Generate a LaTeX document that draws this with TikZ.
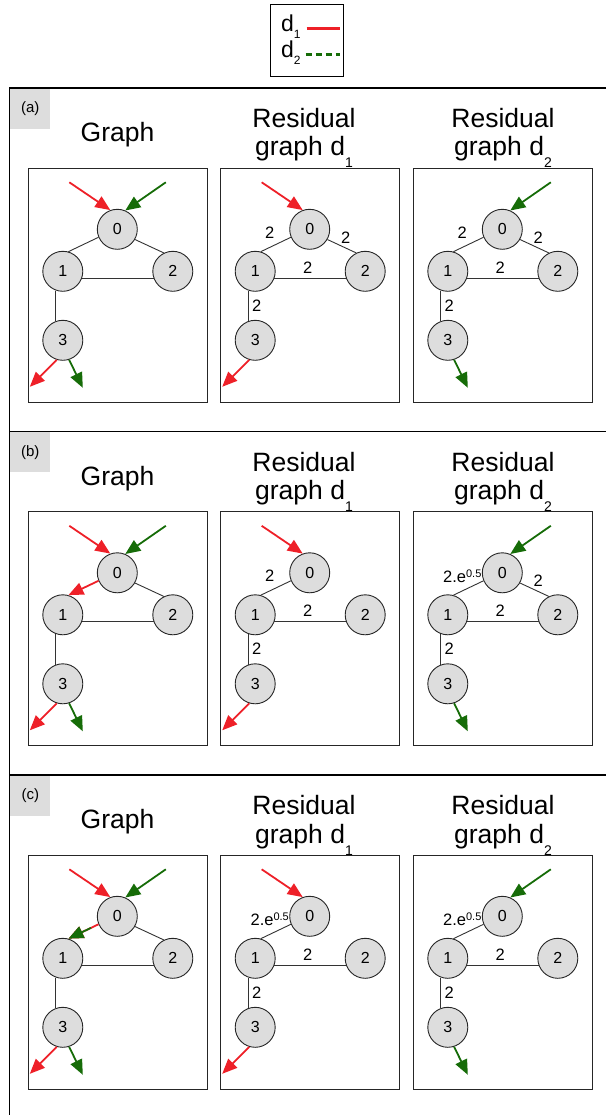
\documentclass[tikz,border=0pt]{standalone}
\usepackage{fontspec}
\setmainfont{Liberation Sans}
\usetikzlibrary{calc,arrows.meta}
\definecolor{dred}{RGB}{238,32,40}
\definecolor{dgreen}{RGB}{22,108,8}
\definecolor{ngrey}{RGB}{221,221,221}
\tikzset{
  gnode/.style={circle,draw=black!85,fill=ngrey,line width=0.9pt,minimum size=40pt,inner sep=0pt,font=\fontsize{16}{16}\selectfont},
  gedge/.style={draw=black!80,line width=0.9pt},
  rarr/.style={draw=dred,line width=1.8pt,-{Triangle[length=15pt,width=12.5pt]}},
  garr/.style={draw=dgreen,line width=1.8pt,-{Triangle[length=15pt,width=12.5pt]}},
  elab/.style={font=\fontsize{16.5}{16.5}\selectfont,inner sep=0pt},
  ttl/.style={font=\fontsize{26.5}{28}\selectfont,inner sep=0pt,anchor=base},
  gboxst/.style={draw=black!85,line width=1pt},
  plabel/.style={fill=ngrey,minimum size=40pt,inner sep=0pt,font=\fontsize{15}{15}\selectfont},
  frame/.style={draw=black,line width=1.2pt},
}
\newcommand\gbox[3]{%
  \begin{scope}[shift={(#1,#2)}]
    \draw[gboxst] (0,0) rectangle (179,234);
    \node[gnode] (#3n0) at (89,61) {0};
    \node[gnode] (#3n1) at (34.5,103) {1};
    \node[gnode] (#3n2) at (144.5,103) {2};
    \node[gnode] (#3n3) at (34.5,172) {3};
    \coordinate (#3ri) at (41,14);
    \coordinate (#3gi) at (137.5,14);
    \coordinate (#3ro) at (1.5,218.5);
    \coordinate (#3go) at (54.5,219.5);
    \coordinate (#3l01) at (49,64);
    \coordinate (#3l02) at (125,69);
    \coordinate (#3l12) at (87,99);
    \coordinate (#3l13) at (36,137);
  \end{scope}}
\newcommand\eOA[1]{\draw[gedge] (#1n0.203) -- (#1n1.74);}
\newcommand\eOB[1]{\draw[gedge] (#1n0.330) -- (#1n2.116);}
\newcommand\eAB[1]{\draw[gedge] (#1n1.340) -- (#1n2.200);}
\newcommand\eAC[1]{\draw[gedge] (#1n1.250) -- (#1n3.110);}
\newcommand\redio[1]{\draw[rarr] (#1ri) -- (#1n0.110); \draw[rarr] (#1n3.253) -- (#1ro);}
\newcommand\greenio[1]{\draw[garr] (#1gi) -- (#1n0.67); \draw[garr] (#1n3.288) -- (#1go);}
\newcommand\elabel[3]{\node[elab] (#1t#2) at (#1l#2) {#3};}
\newcommand\ehalf{2.e\raisebox{5pt}{\fontsize{11}{11}\selectfont 0.5}}
\newcommand\sub[1]{\raisebox{-12pt}{\fontsize{14}{14}\selectfont #1}}
\newcommand\titles[2]{% y offset, prefix
  \node[ttl] (#2tg) at (117.5,#1+53.7) {Graph};
  \node[ttl] (#2tr1) at (304,#1+39.5) {Residual};
  \node[ttl] (#2tr2) at (304,#1+68) {graph d\sub{1}};
  \node[ttl] (#2tr3) at (503,#1+39.5) {Residual};
  \node[ttl] (#2tr4) at (503,#1+68) {graph d\sub{2}};
}
\begin{document}
\begin{tikzpicture}[x=1pt,y=-1pt]
\useasboundingbox (0,0) rectangle (606,1115);
% legend
\draw[line width=1pt] (270,5) rectangle (343,77);
\node[font=\fontsize{23}{23}\selectfont,inner sep=0pt,anchor=base west] (lg1) at (281,31.5) {d\raisebox{-7pt}{\fontsize{12}{12}\selectfont 1}};
\node[font=\fontsize{23}{23}\selectfont,inner sep=0pt,anchor=base west] (lg2) at (281,58) {d\raisebox{-7pt}{\fontsize{12}{12}\selectfont 2}};
\coordinate (lr1) at (306.5,28.3); \coordinate (lr2) at (340,28.3);
\coordinate (lgg1) at (305.5,54.3); \coordinate (lgg2) at (340,54.3);
\draw[dred,line width=3pt] (lr1) -- (lr2);
\draw[dgreen,line width=3pt,dash pattern=on 6pt off 4pt] (lgg1) -- (lgg2);
% frames
\draw[frame] (606,88) -- (9.5,88) -- (9.5,1115);
\draw[frame] (9.5,431.5) -- (606,431.5);
\draw[frame] (9.5,775) -- (606,775);
\node[plabel,anchor=north west] (pa) at (10.1,88.6) {(a)};
\node[plabel,anchor=north west] (pb) at (10.1,432.1) {(b)};
\node[plabel,anchor=north west] (pc) at (10.1,775.6) {(c)};
\titles{88}{a}
\titles{431.5}{b}
\titles{775}{c}
% ---------- panel a
\gbox{28.3}{168.3}{aa}
\gbox{220.7}{168.3}{ab}
\gbox{413.3}{168.3}{ac}
\eOA{aa}\eOB{aa}\eAB{aa}\eAC{aa}\redio{aa}\greenio{aa}
\eOA{ab}\eOB{ab}\eAB{ab}\eAC{ab}\redio{ab}
\elabel{ab}{01}{2}\elabel{ab}{02}{2}\elabel{ab}{12}{2}\elabel{ab}{13}{2}
\eOA{ac}\eOB{ac}\eAB{ac}\eAC{ac}\greenio{ac}
\elabel{ac}{01}{2}\elabel{ac}{02}{2}\elabel{ac}{12}{2}\elabel{ac}{13}{2}
% ---------- panel b
\gbox{28.3}{511.8}{ba}
\gbox{220.7}{511.8}{bb}
\gbox{413.3}{511.8}{bc}
\eOB{ba}\eAB{ba}\eAC{ba}\redio{ba}\greenio{ba}
\draw[rarr] (ban0.203) -- (ban1.74);
\eOA{bb}\eAB{bb}\eAC{bb}\redio{bb}
\elabel{bb}{01}{2}\elabel{bb}{12}{2}\elabel{bb}{13}{2}
\eOA{bc}\eOB{bc}\eAB{bc}\eAC{bc}\greenio{bc}
\elabel{bc}{01}{\ehalf}\elabel{bc}{02}{2}\elabel{bc}{12}{2}\elabel{bc}{13}{2}
% ---------- panel c
\gbox{28.3}{855.3}{ca}
\gbox{220.7}{855.3}{cb}
\gbox{413.3}{855.3}{cc}
\eOB{ca}\eAB{ca}\eAC{ca}\redio{ca}\greenio{ca}
\draw[rarr] (can0.203) -- (can1.74);
\draw[garr] ($(can0.203)!0.25!(can1.74)$) -- (can1.74);
\eOA{cb}\eAB{cb}\eAC{cb}\redio{cb}
\elabel{cb}{01}{\ehalf}\elabel{cb}{12}{2}\elabel{cb}{13}{2}
\eOA{cc}\eAB{cc}\eAC{cc}\greenio{cc}
\elabel{cc}{01}{\ehalf}\elabel{cc}{12}{2}\elabel{cc}{13}{2}
\end{tikzpicture}
\end{document}
